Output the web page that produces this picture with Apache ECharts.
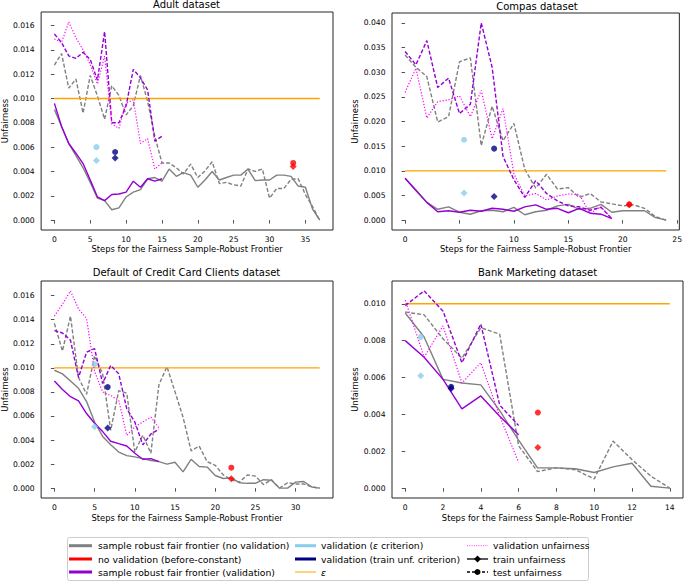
<!DOCTYPE html>
<html><head><meta charset="utf-8">
<script src="https://cdn.jsdelivr.net/npm/echarts@6/dist/echarts.min.js"></script>
<style>html,body{margin:0;padding:0;background:#fff}#c{width:685px;height:582px}</style>
</head><body><div id="c"></div>
<script>
// ---------- titles & ticks ----------
const panelTitles = ['Adult dataset', 'Compas dataset', 'Default of Credit Card Clients dataset', 'Bank Marketing dataset'];
const xAxisName = 'Steps for the Fairness Sample-Robust Frontier';
const yAxisName = 'Unfairness';
const xTicksAdult = [0, 5, 10, 15, 20, 25, 30, 35];
const xTicksCompas = [0, 5, 10, 15, 20, 25];
const xTicksCredit = [0, 5, 10, 15, 20, 25, 30];
const xTicksBank = [0, 2, 4, 6, 8, 10, 12, 14];
const yTicksAdult = [0, 0.002, 0.004, 0.006, 0.008, 0.010, 0.012, 0.014, 0.016];
const yTicksCompas = [0, 0.005, 0.010, 0.015, 0.020, 0.025, 0.030, 0.035, 0.040];
const yTicksCredit = [0, 0.002, 0.004, 0.006, 0.008, 0.010, 0.012, 0.014, 0.016];
const yTicksBank = [0, 0.002, 0.004, 0.006, 0.008, 0.010];
const epsilon = 0.010;

// ---------- Adult ----------
const adultNoValTrain = [0.0091,0.0077,0.0063,0.0053,0.0043,0.0031,0.0018,0.0016,0.00085,0.0010,0.0019,0.0023,0.0025,0.0034,0.0035,0.0032,0.0042,0.0036,0.0039,0.0037,0.0027,0.0033,0.0040,0.0033,0.0035,0.0037,0.0037,0.0042,0.00325,0.0033,0.0033,0.0037,0.0037,0.0036,0.0028,0.0027,0.0009,0.0000];
const adultNoValTest = [0.01275,0.0137,0.01085,0.0116,0.0088,0.0119,0.0102,0.0083,0.01105,0.01025,0.00865,0.0094,0.0119,0.00975,0.0069,0.0047,0.0047,0.0043,0.0038,0.0046,0.0035,0.00405,0.0048,0.0030,0.0031,0.0029,0.0028,0.0042,0.0040,0.0042,0.0018,0.0026,0.0026,0.00335,0.0034,0.0021,0.0011,0.0000];
const adultValTrain = [0.0096,0.0077,0.0063,0.0055,0.00465,0.0033,0.0019,0.0016,0.0021,0.00215,0.0023,0.0032,0.0027,0.0034,0.0032,0.0034];
const adultValTest = [0.0153,0.0146,0.0135,0.0133,0.0138,0.0132,0.0115,0.0155,0.0080,0.0080,0.0094,0.0124,0.0117,0.0107,0.0065,0.0069];
const adultValUnf = [0.0149,0.0146,0.0163,0.0150,0.0140,0.0128,0.0112,0.0135,0.0079,0.00755,0.0096,0.0099,0.0063,0.0067,0.0042,0.0047];
const adultEpsPoint = [5.86, 0.0049, 0.0060];      // step, train, test
const adultUnfPoint = [8.47, 0.0051, 0.0056];
const adultBeforePoint = [33.3, 0.0044, 0.0047];

// ---------- Compas ----------
const compasNoValTrain = [0.0085,0.0061,0.0036,0.0022,0.0027,0.0016,0.0012,0.0019,0.0020,0.0017,0.0026,0.0011,0.0017,0.0020,0.0029,0.0032,0.0022,0.0024,0.0032,0.0016,0.0019,0.0019,0.0019,0.0005,0.0000];
const compasNoValTest = [0.0335,0.0310,0.0291,0.0199,0.0210,0.0321,0.0329,0.0151,0.0231,0.0161,0.0196,0.0103,0.0065,0.0093,0.0063,0.0066,0.0046,0.0054,0.0037,0.0033,0.0029,0.0031,0.0024,0.0007,0.0000];
const compasValTrain = [0.0085,0.0060,0.0036,0.0017,0.0019,0.0016,0.0020,0.0018,0.0024,0.0022,0.0018,0.0027,0.0031,0.0022,0.0024,0.0015,0.0024,0.0014,0.0012,0.0003];
const compasValTest = [0.0342,0.0315,0.0364,0.0269,0.0288,0.0216,0.0235,0.0400,0.0310,0.0129,0.0082,0.0046,0.0080,0.0054,0.0039,0.0029,0.0027,0.0020,0.0026,0.0003];
const compasValUnf = [0.0259,0.0308,0.0207,0.0240,0.0244,0.0252,0.0210,0.0263,0.0165,0.0226,0.0094,0.0049,0.0054,0.0041,0.0049,0.0053,0.0052,0.0014,0.0027,0.0003];
const compasEpsPoint = [5.42, 0.0055, 0.0163];
const compasUnfPoint = [8.18, 0.0048, 0.0145];
const compasBeforePoint = [20.6, 0.0031, 0.0032];

// ---------- Default of Credit Card Clients ----------
const creditNoValTrain = [0.0098,0.0095,0.0089,0.0083,0.0072,0.0055,0.0043,0.0036,0.0030,0.0027,0.0026,0.00245,0.0023,0.0022,0.0020,0.00215,0.00135,0.0024,0.0018,0.00175,0.00105,0.0008,0.00085,0.00045,0.0004,0.0004,0.0007,0.00065,0.0000,0.0000,0.0005,0.00055,0.0001,0.0000];
const creditNoValTest = [0.0137,0.0114,0.0143,0.0092,0.0078,0.0110,0.0095,0.0048,0.0081,0.0079,0.0030,0.0044,0.0029,0.0086,0.0101,0.0080,0.0059,0.0031,0.0035,0.0022,0.0019,0.0011,0.0007,0.0005,0.0011,0.0010,0.0003,0.0007,0.0000,0.00045,0.00035,0.00035,0.0001,0.0000];
const creditValTrain = [0.0089,0.0082,0.0076,0.00725,0.0062,0.0054,0.0047,0.0039,0.0037,0.0035,0.0029,0.0024,0.00245,0.0022];
const creditValTest = [0.0131,0.0129,0.0123,0.0092,0.0113,0.0116,0.0087,0.0102,0.0095,0.0066,0.0055,0.0036,0.0045,0.0049];
const creditValUnf = [0.0143,0.0153,0.0164,0.0149,0.0141,0.0097,0.0080,0.0077,0.0073,0.0044,0.0051,0.0055,0.0059,0.0050];
const creditEpsPoint = [5.0, 0.0051, 0.0103];
const creditUnfPoint = [6.63, 0.0050, 0.0084];
const creditBeforePoint = [22.0, 0.00077, 0.0017];

// ---------- Bank Marketing ----------
const bankNoValTrain = [0.0095,0.0082,0.0059,0.0057,0.0056,0.0042,0.0026,0.0011,0.0011,0.00105,0.00085,0.00115,0.00135,0.0001,0.0000];
const bankNoValTest = [0.00955,0.0094,0.0081,0.00705,0.0087,0.00835,0.0023,0.0009,0.0011,0.0010,0.0005,0.00255,0.00155,0.00065,0.0000];
const bankValTrain = [0.0080,0.0071,0.0059,0.0043,0.0050,0.0039,0.0029];
const bankValTest = [0.0099,0.0107,0.0096,0.0068,0.0089,0.0045,0.0034];
const bankValUnf = [0.0102,0.0071,0.0088,0.0057,0.0068,0.0039,0.0014];
const bankEpsPoint = [0.82, 0.0061, 0.0082];
const bankUnfPoint = [2.43, 0.0054, 0.0055];
const bankBeforePoint = [7.02, 0.0022, 0.0041];

// ---------- legend labels ----------
const legendCol1 = ['sample robust fair frontier (no validation)', 'no validation (before-constant)', 'sample robust fair frontier (validation)'];
const legendCol2 = ['validation ({i|ε} criterion)', 'validation (train unf. criterion)', '{i|ε}'];
const legendCol3 = ['validation unfairness', 'train unfairness', 'test unfairness'];

// ---------- styling ----------
const C = {gray:'#808080', red:'#ff0000', violet:'#9400d3', sky:'#87ceeb', navy:'#000080', orange:'#ffa500', magenta:'#ff00ff'};
const FONT = 'DejaVu Sans';
const FS_TICK = 7.6, FS_NAME = 8.4, FS_TITLE = 10, FS_LEG = 9.25;

const panels = [
  {noT:adultNoValTrain, noE:adultNoValTest, vT:adultValTrain, vE:adultValTest, vU:adultValUnf, eps:adultEpsPoint, unf:adultUnfPoint, bef:adultBeforePoint, xt:xTicksAdult, yt:yTicksAdult},
  {noT:compasNoValTrain, noE:compasNoValTest, vT:compasValTrain, vE:compasValTest, vU:compasValUnf, eps:compasEpsPoint, unf:compasUnfPoint, bef:compasBeforePoint, xt:xTicksCompas, yt:yTicksCompas},
  {noT:creditNoValTrain, noE:creditNoValTest, vT:creditValTrain, vE:creditValTest, vU:creditValUnf, eps:creditEpsPoint, unf:creditUnfPoint, bef:creditBeforePoint, xt:xTicksCredit, yt:yTicksCredit},
  {noT:bankNoValTrain, noE:bankNoValTest, vT:bankValTrain, vE:bankValTest, vU:bankValUnf, eps:bankEpsPoint, unf:bankUnfPoint, bef:bankBeforePoint, xt:xTicksBank, yt:yTicksBank}
];
const gridBoxes = [
  {left:40, top:12, width:293, height:218},
  {left:392, top:13, width:290, height:217},
  {left:40, top:281, width:293, height:217},
  {left:392, top:281, width:291, height:217}
];
const titleTops = [-1, 1, 267.6, 267.3];
const xNameGaps = [14.6, 14.6, 15.8, 15.8];
const yNameGaps = [31.5, 33, 31.5, 33];

const pairs = arr => arr.map((v, i) => [i, v]);

const grids = [], xAxes = [], yAxes = [], series = [], titles = [];
panels.forEach((p, k) => {
  grids.push(Object.assign({show:true, borderColor:'#262626', borderWidth:1, containLabel:false}, gridBoxes[k]));
  const n = p.noT.length - 1;
  let ymax = 0;
  [p.noT, p.noE, p.vT, p.vE, p.vU].forEach(a => a.forEach(v => { if (v > ymax) ymax = v; }));
  const xm = n * 0.05, ym = ymax * 0.05;
  const tickStyle = {show:true, inside:false, length:3.5, lineStyle:{color:'#262626', width:0.8}};
  xAxes.push({
    type:'value', gridIndex:k, min:-xm, max:n + xm,
    name:xAxisName, nameLocation:'middle', nameGap:xNameGaps[k],
    nameTextStyle:{fontFamily:FONT, fontSize:FS_NAME, color:'#000'},
    axisLine:{show:false}, splitLine:{show:false},
    axisTick:Object.assign({customValues:p.xt}, tickStyle),
    axisLabel:{customValues:p.xt, fontFamily:FONT, fontSize:FS_TICK, color:'#000', margin:5, formatter:v => String(v)}
  });
  yAxes.push({
    type:'value', gridIndex:k, min:-ym, max:ymax + ym,
    name:yAxisName, nameLocation:'middle', nameGap:yNameGaps[k],
    nameTextStyle:{fontFamily:FONT, fontSize:FS_NAME, color:'#000'},
    axisLine:{show:false}, splitLine:{show:false},
    axisTick:Object.assign({customValues:p.yt}, tickStyle),
    axisLabel:{customValues:p.yt, fontFamily:FONT, fontSize:FS_TICK, color:'#000', margin:6.5, formatter:v => v.toFixed(3)}
  });
  titles.push({text:panelTitles[k], left:gridBoxes[k].left + gridBoxes[k].width / 2, top:titleTops[k], textAlign:'center', padding:0,
    textStyle:{fontFamily:FONT, fontSize:FS_TITLE, fontWeight:'normal', color:'#000'}});
  const line = (data, color, type, w, z) => ({type:'line', xAxisIndex:k, yAxisIndex:k, data:pairs(data), symbol:'none', silent:true, z:z,
    lineStyle:{color:color, width:w, type:type}});
  series.push(line(p.noT, C.gray, 'solid', 1.4, 2));
  series.push(line(p.noE, C.gray, [4, 2], 1.4, 2));
  series.push({type:'line', xAxisIndex:k, yAxisIndex:k, data:[[0, epsilon], [n, epsilon]], symbol:'none', silent:true, z:2, lineStyle:{color:C.orange, width:1.3}});
  series.push(line(p.vT, C.violet, 'solid', 1.4, 3));
  series.push(line(p.vE, C.violet, [4, 2], 1.4, 3));
  series.push(line(p.vU, C.magenta, [1.2, 1.8], 1.2, 3));
  const pt = (pp, color) => {
    series.push({type:'scatter', xAxisIndex:k, yAxisIndex:k, data:[[pp[0], pp[2]]], symbol:'circle', symbolSize:6, silent:true, z:5, itemStyle:{color:color}});
    series.push({type:'scatter', xAxisIndex:k, yAxisIndex:k, data:[[pp[0], pp[1]]], symbol:'diamond', symbolSize:[7, 7], silent:true, z:5, itemStyle:{color:color}});
  };
  pt(p.eps, C.sky);
  pt(p.unf, C.navy);
  pt(p.bef, C.red);
});

// ---------- legend drawn as graphic ----------
const rows = [545.7, 559, 572];
const g = [];
g.push({type:'rect', shape:{x:67.5, y:537.5, width:521, height:43, r:2}, style:{fill:'#fff', stroke:'#cccccc', lineWidth:1}, z:10});
const txt = (x, y, s) => ({type:'text', x:x, y:y, z:11, style:{text:s, fontFamily:FONT, fontSize:FS_LEG, fill:'#000', verticalAlign:'middle', align:'left',
  rich:{i:{fontStyle:'italic', fontFamily:FONT, fontSize:FS_LEG, fill:'#000'}}}});
const seg = (x1, x2, y, color, w, dash) => ({type:'line', z:11, shape:{x1:x1, y1:y, x2:x2, y2:y}, style:{stroke:color, lineWidth:w, lineDash:dash || null}});
[C.gray, C.red, C.violet].forEach((c, i) => { g.push(seg(69, 92, rows[i], c, 3)); g.push(txt(98, rows[i], legendCol1[i])); });
g.push(seg(295, 316, rows[0], C.sky, 3)); g.push(txt(321, rows[0], legendCol2[0]));
g.push(seg(295, 316, rows[1], C.navy, 3)); g.push(txt(321, rows[1], legendCol2[1]));
g.push(seg(295, 316, rows[2], C.orange, 1)); g.push(txt(321, rows[2], legendCol2[2]));
g.push(seg(467, 488, rows[0], C.magenta, 0.8, [1, 1.3])); g.push(txt(493, rows[0], legendCol3[0]));
g.push(seg(467, 488, rows[1], '#000', 1.3));
g.push({type:'polygon', z:12, shape:{points:[[477.5, rows[1]-3.5],[481, rows[1]],[477.5, rows[1]+3.5],[474, rows[1]]]}, style:{fill:'#000'}});
g.push(txt(493, rows[1], legendCol3[1]));
g.push(seg(467, 488, rows[2], '#000', 1.3, [3, 2]));
g.push({type:'circle', z:12, shape:{cx:477.5, cy:rows[2], r:3}, style:{fill:'#000'}});
g.push(txt(493, rows[2], legendCol3[2]));

const chart = echarts.init(document.getElementById('c'), null, {renderer:'svg', width:685, height:582});
chart.setOption({
  animation:false,
  backgroundColor:'#fff',
  title:titles,
  grid:grids,
  xAxis:xAxes,
  yAxis:yAxes,
  series:series,
  graphic:g
});
</script></body></html>
